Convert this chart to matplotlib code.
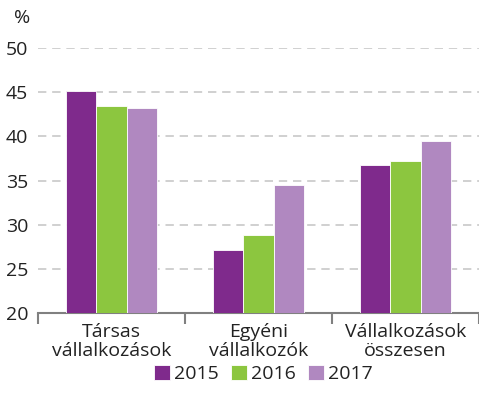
import matplotlib
matplotlib.use("Agg")
from matplotlib import pyplot as plt
import numpy as np

categories = ["Társas\nvállalkozások", "Egyéni\nvállalkozók", "Vállalkozások\nösszesen"]
years = ["2015", "2016", "2017"]
values_2015 = [45.1, 27.1, 36.8]
values_2016 = [43.4, 28.8, 37.2]
values_2017 = [43.2, 34.5, 39.5]
colors = ["#7f2a8c", "#8cc63f", "#b088c0"]

plt.rcParams['font.family'] = ['Open Sans', 'DejaVu Sans']

fig = plt.figure(figsize=(4.79, 4.09), dpi=100)
ax = fig.add_axes([38/479, 1-313/409, 441/479, 265/409])

x = np.arange(len(categories))
w = 0.205
for i, (vals, yr) in enumerate(zip([values_2015, values_2016, values_2017], years)):
    ax.bar(x + (i-1)*w, np.array(vals)-20, bottom=20, width=w, color=colors[i],
           label=yr, edgecolor="white", linewidth=0.6, zorder=3)

ax.set_xlim(-0.5, 2.5)
ax.set_ylim(20, 50)
ax.set_yticks([20, 25, 30, 35, 40, 45, 50])
for yv in [25, 30, 35, 40, 45, 50]:
    ax.axhline(yv, color="#c8c8c8", lw=1.2, ls=(0, (5, 3.5)), zorder=1)

for s in ["left", "right", "top"]:
    ax.spines[s].set_visible(False)
ax.spines["bottom"].set_color("#808080")
ax.spines["bottom"].set_linewidth(1.5)
ax.tick_params(axis="y", length=0, labelsize=14, colors="#222222", pad=7)

ax.set_xticks([-0.5, 0.5, 1.5, 2.5])
ax.set_xticklabels([])
ax.tick_params(axis="x", which="major", length=8, width=1.5, color="#808080")
ax.set_xticks(x, minor=True)
ax.set_xticklabels(categories, minor=True, fontsize=14, color="#222222", linespacing=1.1)
ax.tick_params(axis="x", which="minor", length=0, pad=7)

fig.text(14/479, 1-18/409, "%", fontsize=14, color="#222222", va="center", ha="left")

handles, labels = ax.get_legend_handles_labels()
fig.legend(handles, labels, loc="center", bbox_to_anchor=(0.55, 1-374/409), ncol=3,
           frameon=False, fontsize=14, handlelength=0.85, handleheight=0.85,
           handletextpad=0.2, columnspacing=0.6, labelcolor="#222222")

fig.savefig("out.png", dpi=100)
